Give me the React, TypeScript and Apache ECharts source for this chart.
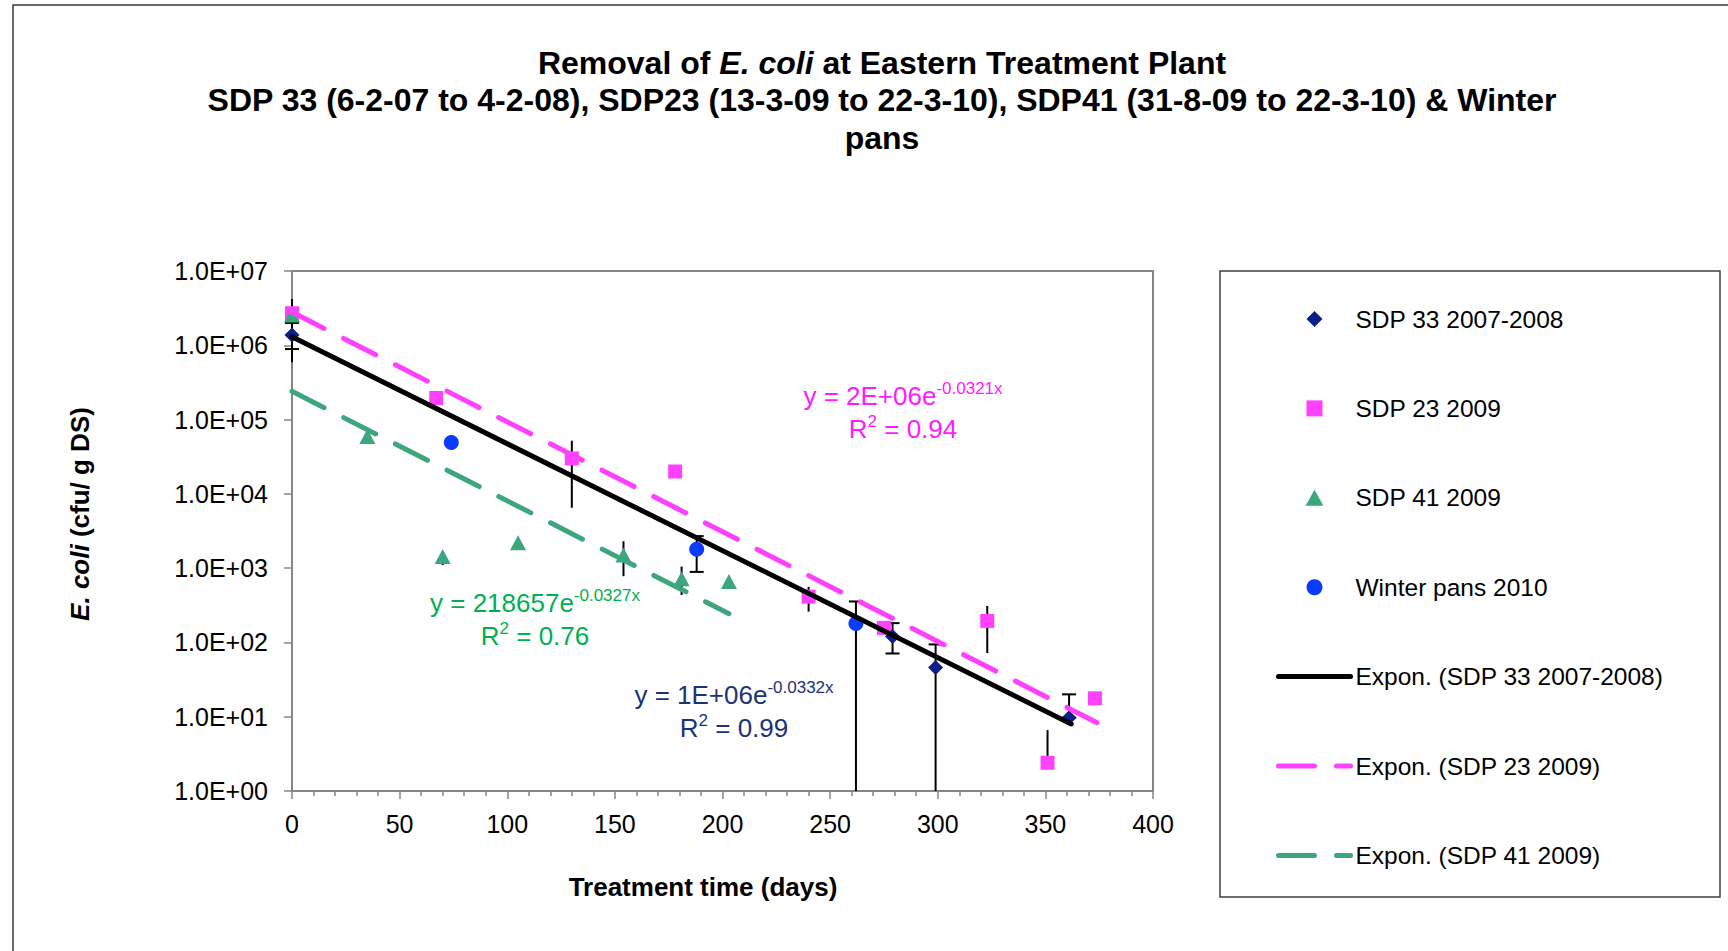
import React, { useEffect, useRef } from "react";
import * as echarts from "echarts";

const FONT = "'Liberation Sans', Arial, Helvetica, sans-serif";

// ---- data ----
const seriesNames = ["SDP 33 2007-2008", "SDP 23 2009", "SDP 41 2009", "Winter pans 2010"];
const trendNames = ["Expon. (SDP 33 2007-2008)", "Expon. (SDP 23 2009)", "Expon. (SDP 41 2009)"];

const sdp33 = [[0, 1.38e6], [279, 120], [299, 46], [361, 9.7]];
const sdp23 = [[0, 2.7e6], [67, 1.95e5], [130, 3.0e4], [178, 2.0e4], [240, 414], [275, 157], [323, 195], [351, 2.4], [373, 17.7]];
const sdp41 = [[0, 2.55e6], [35, 5.9e4], [70, 1.44e3], [105, 2.2e3], [154, 1.5e3], [181, 720], [203, 660]];
const winter = [[74, 4.9e4], [188, 1.8e3], [262, 180]];

// [day, low, high, capped]
const errorBars = [
  [0, 8.9e5, 2.0e6, 1],
  [0, 5.9e5, 4.2e6, 0],
  [70, 1.1e3, 1.44e3, 0],
  [130, 6.5e3, 5.2e4, 0],
  [154, 780, 2.3e3, 0],
  [181, 435, 1.05e3, 0],
  [188, 890, 2.7e3, 1],
  [240, 260, 560, 0],
  [262, 1, 356, 1],
  [279, 71, 182, 1],
  [299, 1, 94, 1],
  [323, 72, 310, 0],
  [351, 2.4, 6.6, 0],
  [361, 9.7, 20, 1],
];

const trend33 = [[0, 1.3e6], [362, 8]];
const trend23 = [[0, 2.8e6], [374, 8.3]];
const trend41 = [[0, 2.4e5], [203, 244]];

const xMin = 0;
const xMax = 400;
const xInterval = 50;
const yMin = 1;
const yMax = 1e7;

const eq23 = ["y = 2E+06e", "-0.0321x", "0.94"];
const eq41 = ["y = 218657e", "-0.0327x", "0.76"];
const eq33 = ["y = 1E+06e", "-0.0332x", "0.99"];

const C33 = "#0B1E8A";
const C23 = "#FF40FF";
const C41 = "#3EA67C";
const CW = "#0A3BFF";

function eqText(x: number, yCenter: number, eq: string[], color: string) {
  const m = { fontSize: 26, fontFamily: FONT, fill: color, lineHeight: 33 };
  const s = { fontSize: 17, fontFamily: FONT, fill: color, lineHeight: 18.5, verticalAlign: "top" };
  return {
    type: "text",
    x,
    y: yCenter - 16.5,
    style: {
      text: `{m|${eq[0]}}{s|${eq[1]}}\n{m|R}{s|2}{m| = ${eq[2]}}`,
      align: "center",
      verticalAlign: "top",
      rich: { m, s },
    },
    z: 20,
  };
}

export default function App() {
  const ref = useRef<HTMLDivElement>(null);

  useEffect(() => {
    if (!ref.current) return;
    const chart = echarts.init(ref.current, undefined, { renderer: "svg" });
    const axisGray = "#868686";
    const titleRich = {
      b: { fontSize: 32, fontWeight: "bold", fontFamily: FONT, fill: "#000", lineHeight: 37.5 },
      bi: { fontSize: 32, fontWeight: "bold", fontStyle: "italic", fontFamily: FONT, fill: "#000", lineHeight: 37.5 },
    };
    const axisTitleRich = {
      b: { fontSize: 26, fontWeight: "bold", fontFamily: FONT, fill: "#000", lineHeight: 30 },
      bi: { fontSize: 26, fontWeight: "bold", fontStyle: "italic", fontFamily: FONT, fill: "#000", lineHeight: 30 },
    };
    const dash = [36, 22];

    const option: any = {
      animation: false,
      backgroundColor: "#fff",
      textStyle: { fontFamily: FONT },
      grid: {
        left: 292, top: 271, width: 861, height: 520,
        show: true, borderColor: axisGray, borderWidth: 2, containLabel: false,
      },
      xAxis: {
        type: "value", min: xMin, max: xMax, interval: xInterval,
        axisLine: { onZero: false, lineStyle: { color: axisGray, width: 2 } },
        axisTick: { show: true, length: 8, lineStyle: { color: axisGray, width: 1.5 } },
        minorTick: { show: true, splitNumber: 5, length: 5, lineStyle: { color: axisGray, width: 1.5 } },
        axisLabel: { fontSize: 25, color: "#000", margin: 20, fontFamily: FONT },
        splitLine: { show: false },
      },
      yAxis: {
        type: "log", logBase: 10, min: yMin, max: yMax, splitNumber: 7,
        axisLine: { onZero: false, lineStyle: { color: axisGray, width: 2 } },
        axisTick: { show: true, length: 8, lineStyle: { color: axisGray, width: 1.5 } },
        axisLabel: {
          fontSize: 25, color: "#000", margin: 24, fontFamily: FONT,
          formatter: (v: number) => {
            const e = Math.round(Math.log10(v));
            return `1.0E+${e < 10 ? "0" : ""}${e}`;
          },
        },
        splitLine: { show: false },
      },
      legend: {
        orient: "vertical",
        left: 1271,
        top: 301.5,
        itemWidth: 72,
        itemHeight: 16,
        itemGap: 64.4,
        selectedMode: false,
        textStyle: { fontSize: 24.5, fontFamily: FONT, color: "#000", lineHeight: 24 },
        lineStyle: { width: 5 },
        data: [
          { name: seriesNames[0], icon: "path://M0,-1L1,0L0,1L-1,0Z" },
          { name: seriesNames[1], icon: "path://M0,0H1V1H0Z" },
          { name: seriesNames[2], icon: "path://M0.5,0L1,0.9L0,0.9Z" },
          { name: seriesNames[3], icon: "circle" },
          { name: trendNames[0], itemStyle: { opacity: 0 } },
          { name: trendNames[1], itemStyle: { opacity: 0 } },
          { name: trendNames[2], itemStyle: { opacity: 0 } },
        ],
      },
      series: [
        {
          type: "custom",
          name: "error bars",
          data: errorBars,
          encode: { x: 0, y: [1, 2] },
          silent: true,
          z: 2,
          renderItem: (_p: any, api: any) => {
            const x = api.value(0);
            const lo = api.value(1);
            const hi = api.value(2);
            const cap = api.value(3);
            const top = api.coord([x, hi]);
            const bot = api.coord([x, lo]);
            const st = { stroke: "#000", lineWidth: 2 };
            const children: any[] = [
              { type: "line", shape: { x1: top[0], y1: top[1], x2: bot[0], y2: bot[1] }, style: st },
            ];
            if (cap) {
              children.push({ type: "line", shape: { x1: top[0] - 7, y1: top[1], x2: top[0] + 7, y2: top[1] }, style: st });
              if (lo > yMin) {
                children.push({ type: "line", shape: { x1: bot[0] - 7, y1: bot[1], x2: bot[0] + 7, y2: bot[1] }, style: st });
              }
            }
            return { type: "group", children };
          },
        },
        { type: "scatter", name: seriesNames[0], data: sdp33, symbol: "diamond", symbolSize: 15, itemStyle: { color: C33, opacity: 1 }, z: 3 },
        { type: "scatter", name: seriesNames[1], data: sdp23, symbol: "rect", symbolSize: 14, itemStyle: { color: C23, opacity: 1 }, z: 3 },
        { type: "scatter", name: seriesNames[2], data: sdp41, symbol: "triangle", symbolSize: [16, 15], itemStyle: { color: C41, opacity: 1 }, z: 3 },
        { type: "scatter", name: seriesNames[3], data: winter, symbol: "circle", symbolSize: 15, itemStyle: { color: CW, opacity: 1 }, z: 3 },
        {
          type: "line", name: trendNames[0], data: trend33, symbol: "none", showSymbol: false,
          lineStyle: { color: "#000", width: 5, cap: "round" }, itemStyle: { color: "#000" }, z: 4,
        },
        {
          type: "line", name: trendNames[1], data: trend23, symbol: "none", showSymbol: false,
          lineStyle: { color: C23, width: 5, type: dash, cap: "round" }, itemStyle: { color: C23 }, z: 4,
        },
        {
          type: "line", name: trendNames[2], data: trend41, symbol: "none", showSymbol: false,
          lineStyle: { color: C41, width: 5, type: dash, cap: "round" }, itemStyle: { color: C41 }, z: 4,
        },
      ],
      graphic: [
        {
          type: "rect", shape: { x: 13, y: 5, width: 1800, height: 1000 },
          style: { fill: "none", stroke: "#3a3a3a", lineWidth: 1.5 }, z: 0, silent: true,
        },
        {
          type: "rect", shape: { x: 1220, y: 271, width: 500, height: 626 },
          style: { fill: "none", stroke: "#404040", lineWidth: 1.5 }, z: 0, silent: true,
        },
        {
          type: "text", x: 882, y: 44,
          style: {
            text:
              "{b|Removal of }{bi|E. coli}{b| at Eastern Treatment Plant}\n" +
              "{b|SDP 33 (6-2-07 to 4-2-08), SDP23 (13-3-09 to 22-3-10), SDP41 (31-8-09 to 22-3-10) & Winter}\n" +
              "{b|pans}",
            align: "center", verticalAlign: "top", rich: titleRich,
          },
          z: 20,
        },
        {
          type: "text", x: 79.5, y: 514, rotation: Math.PI / 2,
          style: { text: "{bi|E. coli}{b| (cfu/ g DS)}", align: "center", verticalAlign: "middle", rich: axisTitleRich },
          z: 20,
        },
        {
          type: "text", x: 703, y: 887,
          style: { text: "{b|Treatment time (days)}", align: "center", verticalAlign: "middle", rich: axisTitleRich },
          z: 20,
        },
        eqText(903, 396, eq23, "#FF1AFF"),
        eqText(535, 603, eq41, "#00B050"),
        eqText(734, 695, eq33, "#1A3278"),
      ],
    };
    chart.setOption(option);
    return () => chart.dispose();
  }, []);

  return (
    <div
      ref={ref}
      style={{ position: "absolute", left: 0, top: 0, width: 1728, height: 951, background: "#fff" }}
    />
  );
}
